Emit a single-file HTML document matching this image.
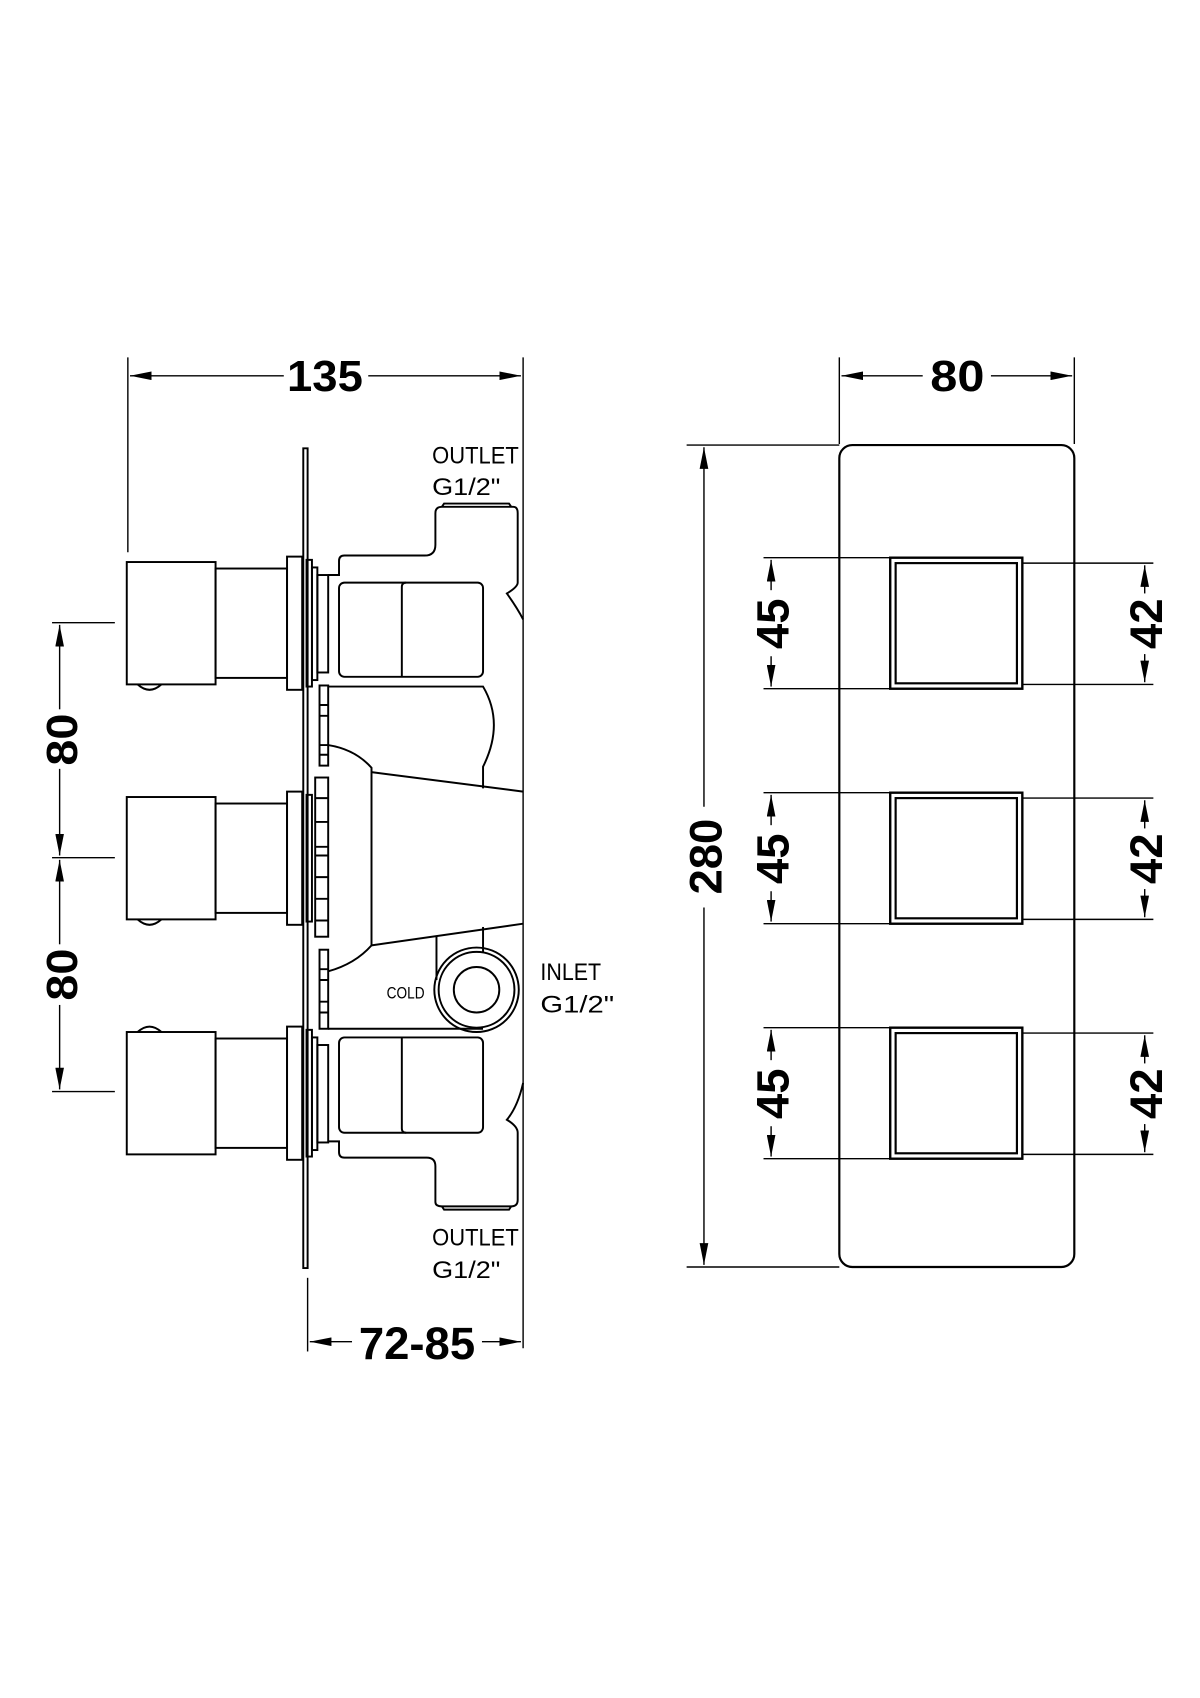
<!DOCTYPE html>
<html><head><meta charset="utf-8"><style>html,body{margin:0;padding:0;background:#fff}svg{display:block}</style></head>
<body>
<svg width="1200" height="1698" viewBox="0 0 1108 1568" xmlns="http://www.w3.org/2000/svg">
<defs>
<marker id="a" viewBox="0 0 20 8" refX="20" refY="4" markerWidth="20" markerHeight="8" markerUnits="userSpaceOnUse" orient="auto-start-reverse"><path d="M0 0 L20 4 L0 8 Z" fill="#000"/></marker>
</defs>
<rect width="1108" height="1568" fill="#fff"/>
<g fill="none" stroke="#000" stroke-width="1.3">
<!-- 135 dim -->
<line x1="118" y1="330" x2="118" y2="510"/>
<line x1="483" y1="330" x2="483" y2="1245"/>
<line x1="120" y1="347" x2="262" y2="347" marker-start="url(#a)"/>
<line x1="340" y1="347" x2="481" y2="347" marker-end="url(#a)"/>
<!-- 72-85 -->
<line x1="284" y1="1180" x2="284" y2="1248"/>
<line x1="286" y1="1239" x2="325" y2="1239" marker-start="url(#a)"/>
<line x1="445" y1="1239" x2="481" y2="1239" marker-end="url(#a)"/>
<!-- left 80 dims -->
<line x1="48" y1="575" x2="106" y2="575"/>
<line x1="48" y1="792" x2="106" y2="792"/>
<line x1="48" y1="1008" x2="106" y2="1008"/>
<line x1="55" y1="577" x2="55" y2="655" marker-start="url(#a)"/>
<line x1="55" y1="710" x2="55" y2="790" marker-end="url(#a)"/>
<line x1="55" y1="794" x2="55" y2="872" marker-start="url(#a)"/>
<line x1="55" y1="928" x2="55" y2="1006" marker-end="url(#a)"/>
<!-- right view dims -->
<line x1="775" y1="330" x2="775" y2="410"/>
<line x1="992" y1="330" x2="992" y2="410"/>
<line x1="777" y1="347" x2="852" y2="347" marker-start="url(#a)"/>
<line x1="915" y1="347" x2="990" y2="347" marker-end="url(#a)"/>
<line x1="634" y1="411" x2="775" y2="411"/>
<line x1="634" y1="1170" x2="775" y2="1170"/>
<line x1="650" y1="413" x2="650" y2="745" marker-start="url(#a)"/>
<line x1="650" y1="838" x2="650" y2="1168" marker-end="url(#a)"/>
</g>
<g fill="none" stroke="#000" stroke-width="2">
<rect x="775" y="411" width="217" height="759" rx="12"/>
</g>
<!-- squares with dims -->
<g id="sq">
<g fill="none" stroke="#000" stroke-width="1.3">
<line x1="705" y1="515" x2="822" y2="515"/>
<line x1="705" y1="636" x2="822" y2="636"/>
<line x1="944" y1="520" x2="1065" y2="520"/>
<line x1="944" y1="632" x2="1065" y2="632"/>
<line x1="712" y1="517" x2="712" y2="545" marker-start="url(#a)"/>
<line x1="712" y1="606" x2="712" y2="634" marker-end="url(#a)"/>
<line x1="1057" y1="522" x2="1057" y2="548" marker-start="url(#a)"/>
<line x1="1057" y1="604" x2="1057" y2="630" marker-end="url(#a)"/>
</g>
<rect x="822" y="515" width="122" height="121" fill="none" stroke="#000" stroke-width="2.2"/>
<rect x="827" y="520" width="112" height="111" fill="none" stroke="#000" stroke-width="2"/>
<text transform="translate(728,576) rotate(-90)" text-anchor="middle" font-family="Liberation Sans, sans-serif" font-weight="bold" font-size="42">45</text>
<text transform="translate(1073,576) rotate(-90)" text-anchor="middle" font-family="Liberation Sans, sans-serif" font-weight="bold" font-size="42">42</text>
</g>
<use href="#sq" transform="translate(0,217)"/>
<use href="#sq" transform="translate(0,434)"/>
<text transform="translate(666,791) rotate(-90)" text-anchor="middle" font-family="Liberation Sans, sans-serif" font-weight="bold" font-size="42">280</text>
<g font-family="Liberation Sans, sans-serif" font-weight="bold" text-anchor="middle">
<text x="300" y="361" font-size="40" textLength="70" lengthAdjust="spacingAndGlyphs">135</text>
<text x="884" y="361" font-size="40" textLength="50" lengthAdjust="spacingAndGlyphs">80</text>
<text x="385" y="1255" font-size="42">72-85</text>
<text transform="translate(71,683) rotate(-90)" font-size="40" textLength="48" lengthAdjust="spacingAndGlyphs">80</text>
<text transform="translate(71,900) rotate(-90)" font-size="40" textLength="48" lengthAdjust="spacingAndGlyphs">80</text>
</g>
<g font-family="Liberation Sans, sans-serif" font-size="22">
<text x="399" y="428" textLength="80" lengthAdjust="spacingAndGlyphs">OUTLET</text>
<text x="399" y="457" textLength="63" lengthAdjust="spacingAndGlyphs">G1/2"</text>
<text x="399" y="1150" textLength="80" lengthAdjust="spacingAndGlyphs">OUTLET</text>
<text x="399" y="1180" textLength="63" lengthAdjust="spacingAndGlyphs">G1/2"</text>
<text x="499" y="905" textLength="56" lengthAdjust="spacingAndGlyphs">INLET</text>
<text x="499" y="935" textLength="68" lengthAdjust="spacingAndGlyphs">G1/2"</text>
<text x="357" y="922" font-size="15" textLength="35" lengthAdjust="spacingAndGlyphs">COLD</text>
</g>
<!-- left view body -->
<g fill="none" stroke="#000" stroke-width="1.8">
<!-- plate -->
<path d="M280 414 L284 414 L284 1171 L280 1171 Z"/>
<!-- handles -->
<g id="h">
<rect x="117" y="519" width="82" height="113"/>
<rect x="199" y="525" width="66" height="101"/>
<rect x="265" y="514" width="14" height="123"/>
<rect x="283" y="517" width="5" height="117"/>
<path d="M127 632 Q138 642 149 632"/>
</g>
<g transform="translate(0,217)">
<rect x="117" y="519" width="82" height="113"/>
<rect x="199" y="525" width="66" height="101"/>
<rect x="265" y="514" width="14" height="123"/>
<rect x="283" y="517" width="5" height="117"/>
<path d="M127 632 Q138 642 149 632"/>
</g>
<g>
<rect x="117" y="953" width="82" height="113"/>
<rect x="199" y="959" width="66" height="101"/>
<rect x="265" y="948" width="14" height="123"/>
<rect x="283" y="951" width="5" height="117"/>
<path d="M127 953 Q138 943 149 953"/>
</g>
<!-- small rings near top and bottom -->
<rect x="288" y="524" width="5" height="104"/>
<rect x="293" y="531" width="10" height="90"/>
<rect x="288" y="958" width="5" height="104"/>
<rect x="293" y="965" width="10" height="90"/>
<!-- segmented columns -->
<rect x="295" y="633" width="8" height="74"/>
<path d="M295 651 H303 M295 661 H303 M295 688 H303 M295 697 H303"/>
<rect x="291" y="718" width="12" height="147"/>
<path d="M291 737 H303 M291 759 H303 M291 782 H303 M291 790 H303 M291 810 H303 M291 830 H303 M291 850 H303"/>
<rect x="295" y="877" width="8" height="73"/>
<path d="M295 895 H303 M295 905 H303 M295 925 H303 M295 935 H303"/>
<!-- upper housing + outlet -->
<path d="M303 531 L313 531 L313 518 Q313 513 318 513 L392 513 Q402 513 402 503 L402 474 Q402 468 408 468 L474 468 Q478 468 478 474 L478 538 Q478 542 468 548 Q478 562 483 572"/>
<path d="M408 468 L410 465 L470 465 L472 468"/>
<rect x="313" y="538" width="133" height="87" rx="5"/>
<path d="M371 625 L371 542 Q371 538 375 538"/>
<!-- middle -->
<path d="M303 634 L446 634 Q466 668 446 708 L446 728"/>
<path d="M303 688 Q328 692 343 709 L343 873 Q328 890 303 897"/>
<path d="M343 713 L483 731"/>
<path d="M343 873 L483 853"/>
<path d="M403 865 L403 905"/>
<path d="M446 856 L446 880"/>
<circle cx="440" cy="914" r="39"/>
<circle cx="440" cy="914" r="35"/>
<circle cx="440" cy="914" r="21"/>
<!-- lower housing + outlet -->
<path d="M303 950 L446 950"/>
<rect x="313" y="958" width="133" height="88" rx="5"/>
<path d="M371 958 L371 1042 Q371 1046 375 1046"/>
<path d="M303 1054 L313 1054 L313 1064 Q313 1069 318 1069 L394 1069 Q402 1069 402 1077 L402 1110 Q402 1114 408 1114 L472 1114 Q478 1114 478 1108 L478 1046 Q478 1040 468 1034 Q478 1022 483 1000"/>
<path d="M408 1114 L410 1117 L470 1117 L472 1114"/>
</g>
</svg>
</body></html>
